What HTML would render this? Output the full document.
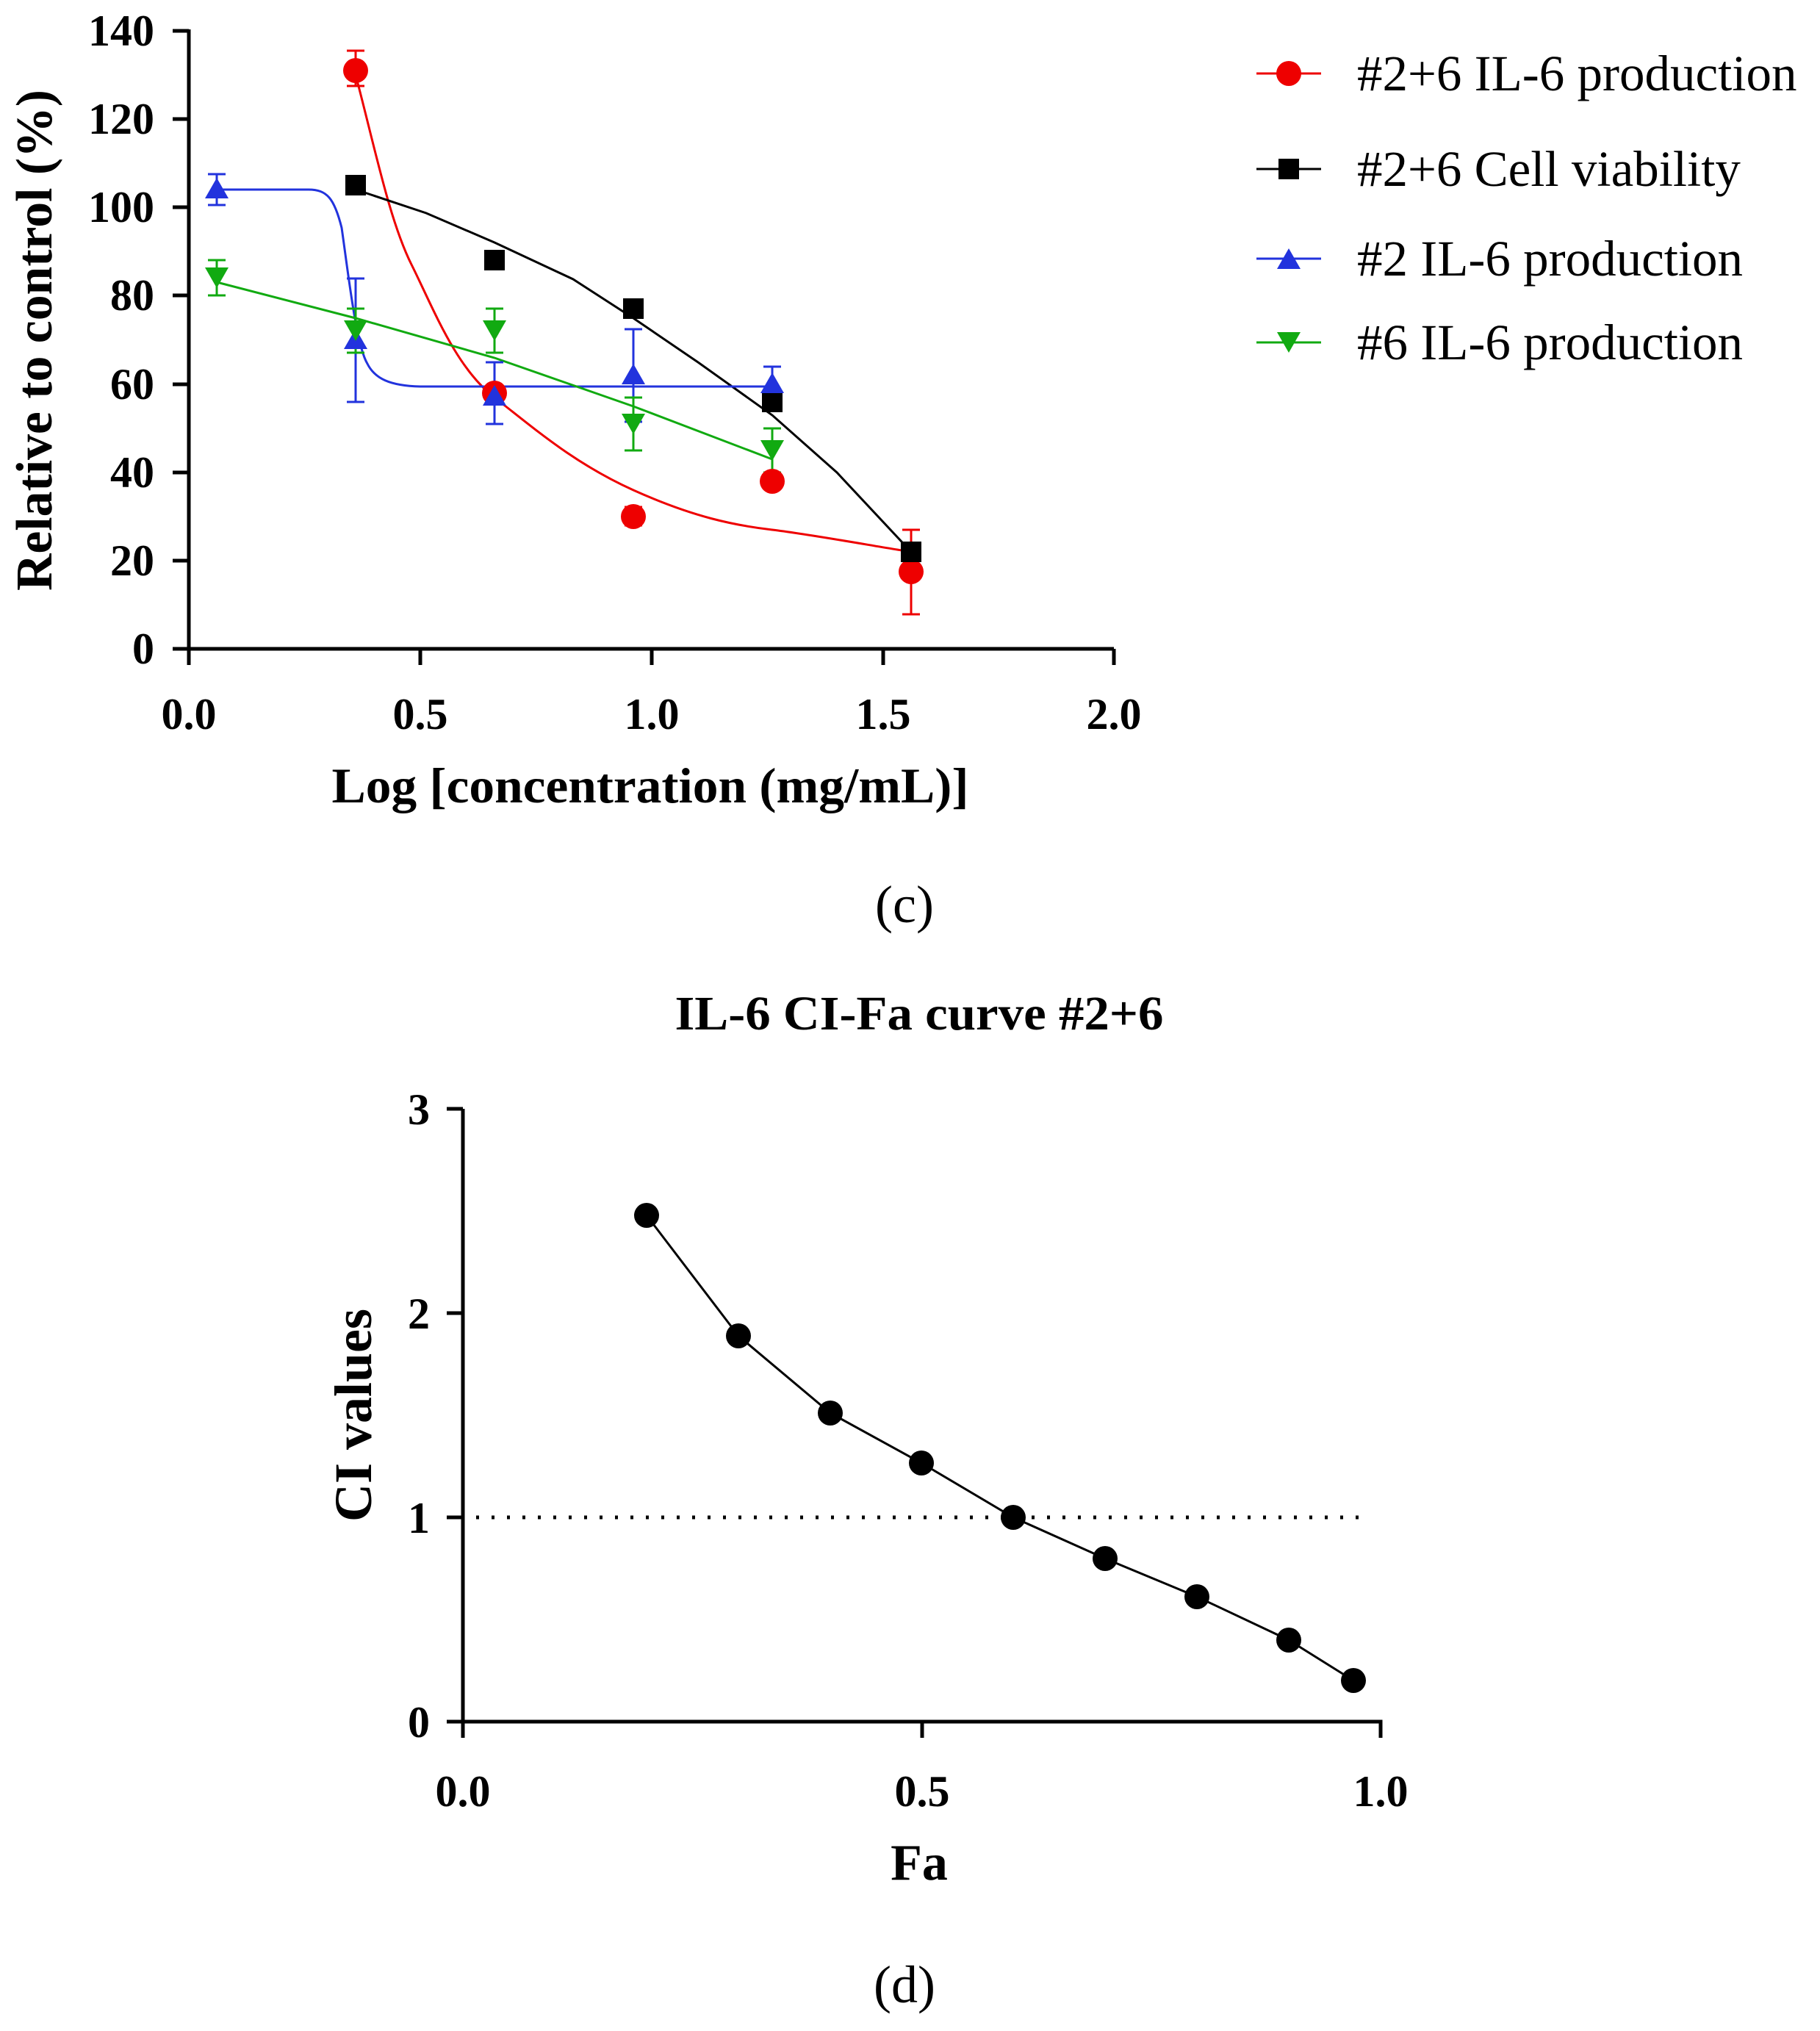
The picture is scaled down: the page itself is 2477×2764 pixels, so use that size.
<!DOCTYPE html>
<html><head><meta charset="utf-8"><style>body{margin:0;background:#fff}svg{display:block}text{font-family:"Liberation Serif",serif}</style></head><body>
<svg width="2477" height="2764" viewBox="0 0 2477 2764" xmlns="http://www.w3.org/2000/svg">
<!-- Chart c axes -->
<g stroke="#000" stroke-width="5" fill="none">
<path d="M257 40 V883 H1516"/>
<path d="M235 42H257M235 162H257M235 282H257M235 402H257M235 523H257M235 643H257M235 763H257M235 883H257"/>
<path d="M257 883V905M572 883V905M887 883V905M1202 883V905M1516 883V905"/>
</g>
<g font-size="60" font-weight="bold" text-anchor="end">
<text x="210" y="62">140</text><text x="210" y="182">120</text><text x="210" y="302">100</text><text x="210" y="422">80</text><text x="210" y="543">60</text><text x="210" y="663">40</text><text x="210" y="783">20</text><text x="210" y="903">0</text>
</g>
<g font-size="60" font-weight="bold" text-anchor="middle">
<text x="257" y="992">0.0</text><text x="572" y="992">0.5</text><text x="887" y="992">1.0</text><text x="1202" y="992">1.5</text><text x="1516" y="992">2.0</text>
</g>
<text x="885" y="1092" font-size="68" font-weight="bold" text-anchor="middle" textLength="867" lengthAdjust="spacingAndGlyphs">Log [concentration (mg/mL)]</text>
<text transform="translate(70,463) rotate(-90)" font-size="70" font-weight="bold" text-anchor="middle" textLength="682" lengthAdjust="spacingAndGlyphs">Relative to control (%)</text>
<!-- curves -->
<g fill="none" stroke-width="3">
<path stroke="#e00" d="M484 102 C510 200 530 300 560 360 S620 500 673 541 S780 630 862 667 S1000 715 1051 721 S1200 745 1240 751"/>
<path stroke="#000" d="M484 258 L580 290 L673 330 L780 380 L862 433 L950 493 L1051 565 L1139 643 L1240 751"/>
<path stroke="#2233dd" d="M295 258 L420 258 C445 258 455 270 465 310 C475 380 485 470 500 495 C510 515 530 525 572 526 L1051 526"/>
<path stroke="#11aa11" d="M295 384 L484 433 L673 487 L862 553 L1051 625"/>
</g>
<!-- error bars -->
<g stroke-width="3" fill="none">
<path stroke="#e00" d="M484 69V117M472 69H496M472 117H496M862 690V715M850 690H874M850 715H874M1240 721V836M1228 721H1252M1228 836H1252"/>
<path stroke="#000" d="M673 343V366M661 343H685M661 366H685M1240 739V763"/>
<path stroke="#2233dd" d="M295 237V279M283 237H307M283 279H307M484 379V547M472 379H496M472 547H496M673 493V577M661 493H685M661 577H685M862 448V574M850 448H874M850 574H874M1051 499V547M1039 499H1063"/>
<path stroke="#11aa11" d="M295 354V402M283 354H307M283 402H307M484 420V480M472 420H496M472 480H496M673 420V480M661 420H685M661 480H685M862 541V613M850 541H874M850 613H874M1051 583V643M1039 583H1063M1039 643H1063"/>
</g>
<!-- markers -->
<g fill="#e00"><circle cx="484" cy="96" r="17"/><circle cx="673" cy="535" r="17"/><circle cx="862" cy="703" r="17"/><circle cx="1051" cy="655" r="17"/><circle cx="1240" cy="778" r="17"/></g>
<g fill="#000"><rect x="470" y="238" width="28" height="28"/><rect x="659" y="340" width="28" height="28"/><rect x="848" y="406" width="28" height="28"/><rect x="1037" y="533" width="28" height="28"/><rect x="1226" y="737" width="28" height="28"/></g>
<g fill="#2233dd"><path d="M295 242l16 28h-32z"/><path d="M484 447l16 28h-32z"/><path d="M673 524l16 28h-32z"/><path d="M862 495l16 28h-32z"/><path d="M1051 507l16 28h-32z"/></g>
<g fill="#11aa11"><path d="M295 392l16 -28h-32z"/><path d="M484 464l16 -28h-32z"/><path d="M673 464l16 -28h-32z"/><path d="M862 591l16 -28h-32z"/><path d="M1051 627l16 -28h-32z"/></g>
<!-- legend -->
<g stroke-width="3">
<line x1="1710" y1="100" x2="1798" y2="100" stroke="#e00"/><circle cx="1754" cy="100" r="17" fill="#e00"/>
<line x1="1710" y1="230" x2="1798" y2="230" stroke="#000"/><rect x="1740" y="216" width="28" height="28"/>
<line x1="1710" y1="352" x2="1798" y2="352" stroke="#2233dd"/><path d="M1754 338l16 28h-32z" fill="#2233dd"/>
<line x1="1710" y1="466" x2="1798" y2="466" stroke="#11aa11"/><path d="M1754 480l16 -28h-32z" fill="#11aa11"/>
</g>
<g font-size="69">
<text x="1847" y="123">#2+6 IL-6 production</text>
<text x="1847" y="253">#2+6 Cell viability</text>
<text x="1847" y="375">#2 IL-6 production</text>
<text x="1847" y="489">#6 IL-6 production</text>
</g>
<text x="1231" y="1255" font-size="72" text-anchor="middle">(c)</text>
<!-- Chart d -->
<text x="1251" y="1401" font-size="66" font-weight="bold" text-anchor="middle" textLength="665" lengthAdjust="spacingAndGlyphs">IL-6 CI-Fa curve #2+6</text>
<g stroke="#000" stroke-width="5" fill="none">
<path d="M630 1509V2343H1879V2365"/>
<path d="M608 1509H630M608 1787H630M608 2065H630M608 2343H630M630 2343V2365M1255 2343V2365"/>
</g>
<line x1="648" y1="2065" x2="1860" y2="2065" stroke="#000" stroke-width="5" stroke-dasharray="4 17"/>
<g font-size="60" font-weight="bold" text-anchor="end">
<text x="585" y="1530">3</text><text x="585" y="1808">2</text><text x="585" y="2086">1</text><text x="585" y="2364">0</text>
</g>
<g font-size="60" font-weight="bold" text-anchor="middle">
<text x="630" y="2458">0.0</text><text x="1255" y="2458">0.5</text><text x="1879" y="2458">1.0</text>
<text x="1251" y="2558" font-size="70">Fa</text>
</g>
<text transform="translate(505,1926) rotate(-90)" font-size="72" font-weight="bold" text-anchor="middle">CI values</text>
<polyline fill="none" stroke="#000" stroke-width="3" points="880,1654 1005,1818 1130,1923 1254,1991 1379,2065 1504,2121 1629,2173 1754,2232 1842,2287"/>
<g fill="#000"><circle cx="880" cy="1654" r="17"/><circle cx="1005" cy="1818" r="17"/><circle cx="1130" cy="1923" r="17"/><circle cx="1254" cy="1991" r="17"/><circle cx="1379" cy="2065" r="17"/><circle cx="1504" cy="2121" r="17"/><circle cx="1629" cy="2173" r="17"/><circle cx="1754" cy="2232" r="17"/><circle cx="1842" cy="2287" r="17"/></g>
<text x="1231" y="2725" font-size="72" text-anchor="middle">(d)</text>
</svg>
</body></html>
